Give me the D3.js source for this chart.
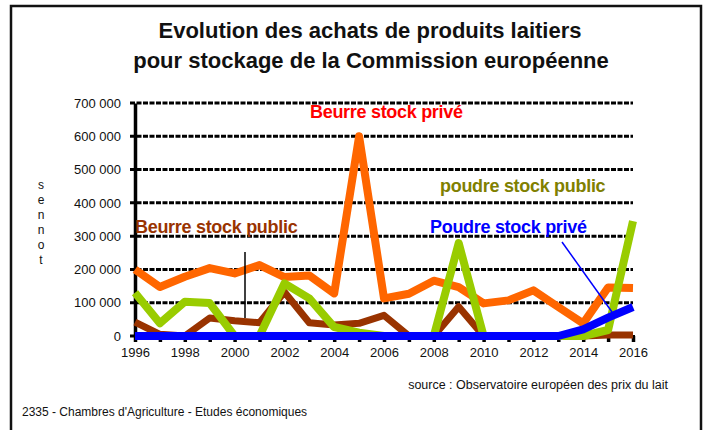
<!DOCTYPE html>
<head>
    <title>Achats de produits laitiers</title>
    <script src="https://d3js.org/d3.v7.min.js"></script>
</head>
<style>
    body { margin: 0; background: #fff; }
    svg { font-family: "Liberation Sans", Arial, sans-serif; }
</style>
<body>
<svg width="707" height="430"></svg>
<script>
    // data (tonnes)
    var years = d3.range(1996, 2017);
    var beurrePrive  = [200000, 147000, 178000, 204000, 188000, 213000, 177000, 182000, 128000, 600000, 113000, 127000, 166000, 147000, 98000, 107000, 137000, 87000, 38000, 146000, 144000];
    var beurrePublic = [42000, 5000, 0, 54000, 46000, 40000, 132000, 40000, 33000, 38000, 62000, 0, 0, 88000, 0, 0, 0, 0, 0, 3000, 3000];
    var poudrePublic = [130000, 38000, 103000, 99000, 0, 0, 158000, 113000, 27000, 10000, 0, 0, 0, 279000, 0, 0, 0, 0, 0, 18000, 345000];
    var poudrePrive  = [0, 0, 0, 0, 0, 0, 0, 0, 0, 0, 0, 0, 0, 0, 0, 0, 0, 0, 20000, 55000, 87000];
    var yTicks = [0, 100000, 200000, 300000, 400000, 500000, 600000, 700000];

    var series = [
        {name: "Beurre stock public", values: beurrePublic, color: "#993300", width: 7},
        {name: "Beurre stock privé", values: beurrePrive, color: "#ff6600", width: 8},
        {name: "poudre stock public", values: poudrePublic, color: "#99cc00", width: 8},
        {name: "Poudre stock privé", values: poudrePrive, color: "#0000ff", width: 8}
    ];

    var svg = d3.select("svg");
    var x = d3.scaleLinear().domain([1996, 2016]).range([135, 633]);
    var y = d3.scaleLinear().domain([0, 700000]).range([336, 103]);

    // outer frame
    svg.append("rect")
        .attr("x", 11).attr("y", 6)
        .attr("width", 690).attr("height", 440)
        .attr("fill", "none")
        .attr("stroke", "#111")
        .attr("stroke-width", 2.5);

    // title
    var title = svg.append("text")
        .attr("text-anchor", "middle")
        .attr("font-weight", "bold")
        .attr("font-size", 22)
        .attr("fill", "#111");
    title.append("tspan").attr("x", 370).attr("y", 38).text("Evolution des achats de produits laitiers");
    title.append("tspan").attr("x", 371).attr("y", 68).text("pour stockage de la Commission européenne");

    // dashed gridlines
    svg.append("g")
        .selectAll("line")
        .data(yTicks)
        .enter().append("line")
        .attr("x1", 130).attr("x2", 633)
        .attr("y1", function(d) { return y(d); })
        .attr("y2", function(d) { return y(d); })
        .attr("stroke", "#000")
        .attr("stroke-width", 3)
        .attr("stroke-dasharray", "5,1.5");

    // y axis
    var yAxis = svg.append("g")
        .attr("transform", "translate(135,0)")
        .call(d3.axisLeft(y).tickValues(yTicks).tickSize(0).tickPadding(14)
            .tickFormat(function(d) { return d3.format(",")(d).replace(/,/g, " "); }));
    yAxis.select(".domain").attr("stroke", "#000").attr("stroke-width", 3.5);
    yAxis.selectAll("text")
        .attr("font-family", "Liberation Sans, Arial, sans-serif")
        .attr("font-size", 13)
        .attr("fill", "#111");

    // x axis ticks (every year) and labels
    var xAxis = svg.append("g")
        .attr("transform", "translate(0," + y(0) + ")")
        .call(d3.axisBottom(x).tickValues(years).tickSize(6).tickPadding(6)
            .tickFormat(function(d) { return d % 2 === 0 ? d : ""; }));
    xAxis.select(".domain").attr("stroke", "#000").attr("stroke-width", 3);
    xAxis.selectAll(".tick line").attr("stroke", "#000").attr("stroke-width", 3.5);
    xAxis.selectAll("text")
        .attr("font-family", "Liberation Sans, Arial, sans-serif")
        .attr("font-size", 13)
        .attr("fill", "#111");

    // y axis label (stacked letters)
    var letters = "tonnes".split("");
    svg.append("text")
        .attr("font-size", 12)
        .attr("fill", "#111")
        .attr("text-anchor", "middle")
        .selectAll("tspan")
        .data(letters)
        .enter().append("tspan")
        .attr("x", 41)
        .attr("y", function(d, i) { return 264 - i * 15; })
        .text(function(d) { return d; });

    // lines
    var line = d3.line()
        .x(function(d, i) { return x(years[i]); })
        .y(function(d) { return y(d); });
    svg.append("g")
        .selectAll("path")
        .data(series)
        .enter().append("path")
        .attr("d", function(d) { return line(d.values); })
        .attr("fill", "none")
        .attr("stroke", function(d) { return d.color; })
        .attr("stroke-width", function(d) { return d.width; })
        .attr("stroke-linejoin", "round");

    // leader lines
    svg.append("line")
        .attr("x1", 245).attr("y1", 252).attr("x2", 245).attr("y2", 318)
        .attr("stroke", "#000").attr("stroke-width", 1.5);
    svg.append("line")
        .attr("x1", 562).attr("y1", 242).attr("x2", 612).attr("y2", 312)
        .attr("stroke", "#0000ff").attr("stroke-width", 1.5);

    // series labels
    var labels = [
        {text: "Beurre stock privé", x: 310, y: 118, color: "#ff0000"},
        {text: "poudre stock public", x: 440, y: 192, color: "#808000"},
        {text: "Beurre stock public", x: 135, y: 233, color: "#993300"},
        {text: "Poudre stock privé", x: 430, y: 233, color: "#0000ff"}
    ];
    svg.append("g")
        .selectAll("text")
        .data(labels)
        .enter().append("text")
        .attr("x", function(d) { return d.x; })
        .attr("y", function(d) { return d.y; })
        .attr("fill", function(d) { return d.color; })
        .attr("font-size", 18)
        .attr("font-weight", "bold")
        .attr("letter-spacing", -0.3)
        .text(function(d) { return d.text; });

    // footer
    svg.append("text")
        .attr("x", 668).attr("y", 389)
        .attr("text-anchor", "end")
        .attr("font-size", 12.5)
        .attr("fill", "#111")
        .text("source : Observatoire européen des prix du lait");
    svg.append("text")
        .attr("x", 22).attr("y", 416)
        .attr("font-size", 12)
        .attr("fill", "#111")
        .text("2335 - Chambres d'Agriculture - Etudes économiques");
</script>
</body>
